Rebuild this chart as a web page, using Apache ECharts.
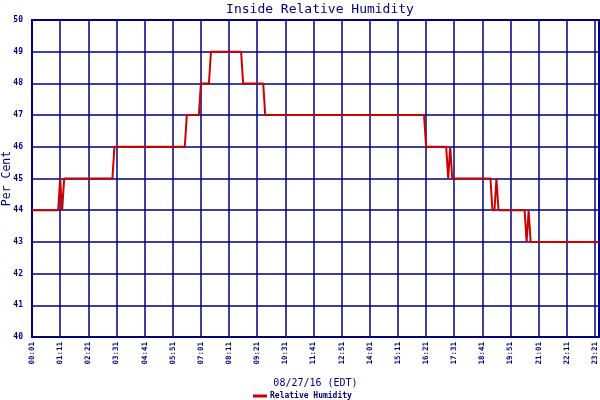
<!DOCTYPE html>
<html>
<head>
<meta charset="utf-8">
<title>Inside Relative Humidity</title>
<script src="https://cdn.jsdelivr.net/npm/echarts@6/dist/echarts.min.js"></script>
<style>
	html, body { margin: 0; padding: 0; background: #fff; }
	#chart { width: 600px; height: 400px; }
</style>
</head>
<body>
<div id="chart"></div>
<script>
var chartTitle = 'Inside Relative Humidity';
var xAxisTitle = '08/27/16 (EDT)';
var yAxisTitle = 'Per Cent';
var seriesName = 'Relative Humidity';

// 5 minute readings, 00:01 onwards (one row = 70 min = one tick)
var humidity = [
	44, 44, 44, 44, 44, 44, 44, 44, 44, 44, 44, 44, 44, 44,
	45, 44, 45, 45, 45, 45, 45, 45, 45, 45, 45, 45, 45, 45,
	45, 45, 45, 45, 45, 45, 45, 45, 45, 45, 45, 45, 45, 46,
	46, 46, 46, 46, 46, 46, 46, 46, 46, 46, 46, 46, 46, 46,
	46, 46, 46, 46, 46, 46, 46, 46, 46, 46, 46, 46, 46, 46,
	46, 46, 46, 46, 46, 46, 46, 47, 47, 47, 47, 47, 47, 47,
	48, 48, 48, 48, 48, 49, 49, 49, 49, 49, 49, 49, 49, 49,
	49, 49, 49, 49, 49, 49, 49, 48, 48, 48, 48, 48, 48, 48,
	48, 48, 48, 48, 47, 47, 47, 47, 47, 47, 47, 47, 47, 47,
	47, 47, 47, 47, 47, 47, 47, 47, 47, 47, 47, 47, 47, 47,
	47, 47, 47, 47, 47, 47, 47, 47, 47, 47, 47, 47, 47, 47,
	47, 47, 47, 47, 47, 47, 47, 47, 47, 47, 47, 47, 47, 47,
	47, 47, 47, 47, 47, 47, 47, 47, 47, 47, 47, 47, 47, 47,
	47, 47, 47, 47, 47, 47, 47, 47, 47, 47, 47, 47, 47, 47,
	46, 46, 46, 46, 46, 46, 46, 46, 46, 46, 46, 45, 46, 45,
	45, 45, 45, 45, 45, 45, 45, 45, 45, 45, 45, 45, 45, 45,
	45, 45, 45, 45, 45, 44, 44, 45, 44, 44, 44, 44, 44, 44,
	44, 44, 44, 44, 44, 44, 44, 44, 43, 44, 43, 43, 43, 43,
	43, 43, 43, 43, 43, 43, 43, 43, 43, 43, 43, 43, 43, 43,
	43, 43, 43, 43, 43, 43, 43, 43, 43, 43, 43, 43, 43, 43,
	43, 43, 43
];

var yMin = 40;
var yMax = 50;
var yStep = 1;
var labelEvery = 14;

// 时间轴标签
var times = [];
for (var i = 0; i < humidity.length; i++) {
	var m = 1 + i * 5;
	var hh = Math.floor(m / 60), mm = m % 60;
	times.push((hh < 10 ? '0' : '') + hh + ':' + (mm < 10 ? '0' : '') + mm);
}

var navy = '#000080';
var mono = 'DejaVu Sans Mono';
var last = humidity.length - 1;

function showTick(index) {
	return index % labelEvery == 0 || index == last;
}

var myChart = echarts.init(document.getElementById('chart'));
myChart.setOption({
	animation : false,
	backgroundColor : '#fff',
	title : {
		text : chartTitle,
		left : 315,
		top : -2,
		textAlign : 'center',
		textStyle : {
			color : navy,
			fontFamily : mono,
			fontSize : 13,
			fontWeight : 'normal'
		}
	},
	legend : {
		left : 248,
		top : 387,
		itemWidth : 14,
		itemHeight : 3,
		itemGap : 4,
		icon : 'rect',
		data : [ seriesName ],
		textStyle : {
			color : navy,
			fontFamily : mono,
			fontSize : 8,
			fontWeight : 'bold',
			padding : [ 0, 0, 0, -2 ]
		}
	},
	grid : {
		left : 32,
		right : 1,
		top : 20,
		bottom : 63,
		outerBoundsMode : 'none',
		containLabel : false,
		show : true,
		borderColor : navy,
		borderWidth : 2,
		backgroundColor : 'transparent'
	},
	xAxis : {
		type : 'category',
		boundaryGap : false,
		data : times,
		name : xAxisTitle,
		nameLocation : 'middle',
		nameGap : 41,
		nameMoveOverlap : false,
		nameTextStyle : {
			color : navy,
			fontFamily : mono,
			fontSize : 10
		},
		axisLine : {
			lineStyle : {
				color : navy,
				width : 2
			}
		},
		axisTick : {
			show : false
		},
		axisLabel : {
			interval : showTick,
			hideOverlap : false,
			rotate : 90,
			margin : 5,
			color : navy,
			fontFamily : mono,
			fontSize : 7.5,
			fontWeight : 'bold'
		},
		splitLine : {
			show : true,
			interval : showTick,
			lineStyle : {
				color : navy,
				width : 1.5
			}
		}
	},
	yAxis : {
		type : 'value',
		min : yMin,
		max : yMax,
		interval : yStep,
		name : yAxisTitle,
		nameLocation : 'middle',
		nameRotate : 90,
		nameGap : 19,
		nameMoveOverlap : false,
		nameTextStyle : {
			color : navy,
			fontFamily : mono,
			fontSize : 11.5
		},
		axisLine : {
			show : true,
			lineStyle : {
				color : navy,
				width : 2
			}
		},
		axisTick : {
			show : false
		},
		axisLabel : {
			margin : 9,
			color : navy,
			fontFamily : mono,
			fontSize : 8,
			fontWeight : 'bold'
		},
		splitLine : {
			lineStyle : {
				color : navy,
				width : 1.5
			}
		}
	},
	series : [ {
		name : seriesName,
		type : 'line',
		data : humidity,
		showSymbol : false,
		color : '#cc0000',
		lineStyle : {
			color : '#cc0000',
			width : 2
		}
	} ]
});
</script>
</body>
</html>
